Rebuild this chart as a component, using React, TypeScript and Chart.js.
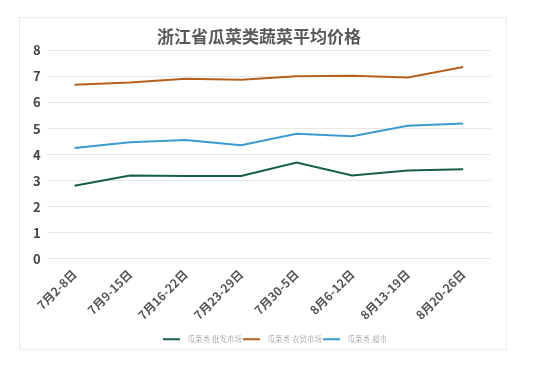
import React, { useEffect, useRef } from "react";
import { Chart, registerables } from "chart.js";

Chart.register(...registerables);

const TITLE = "浙江省瓜菜类蔬菜平均价格";
const CATEGORIES = ["7月2-8日", "7月9-15日", "7月16-22日", "7月23-29日", "7月30-5日", "8月6-12日", "8月13-19日", "8月20-26日"];
const WHOLESALE = [2.81, 3.2, 3.18, 3.18, 3.7, 3.2, 3.39, 3.44];
const FARMERS = [6.68, 6.77, 6.91, 6.87, 7.01, 7.03, 6.96, 7.36];
const SUPERMARKET = [4.26, 4.48, 4.56, 4.36, 4.8, 4.71, 5.11, 5.2];
const SERIES_NAMES = ["瓜菜类 批发市场", "瓜菜类 农贸市场", "瓜菜类 超市"];
const SERIES_COLORS = ["#175f4b", "#b4611f", "#3b9ad0"];
const Y_MIN = 0;
const Y_MAX = 8;

const legendShift = {
  id: "legendShift",
  afterLayout(chart: any) {
    if (chart.legend) {
      chart.legend.left += 16;
      chart.legend.right += 16;
    }
  },
};

export default function App() {
  const ref = useRef<HTMLCanvasElement | null>(null);
  useEffect(() => {
    if (!ref.current) return;
    const font = "'Noto Sans CJK SC', 'Noto Sans', sans-serif";
    const values = [WHOLESALE, FARMERS, SUPERMARKET];
    const chart = new Chart(ref.current, {
      type: "line",
      data: {
        labels: CATEGORIES,
        datasets: values.map((v, i) => ({
          label: SERIES_NAMES[i],
          data: v,
          borderColor: SERIES_COLORS[i],
          backgroundColor: SERIES_COLORS[i],
          borderWidth: 2,
          pointRadius: 0,
          tension: 0,
        })),
      },
      plugins: [legendShift],
      options: {
        animation: false,
        responsive: true,
        maintainAspectRatio: false,
        layout: { padding: { left: 7, right: 15, top: 0, bottom: -4 } },
        plugins: {
          title: {
            display: true,
            text: TITLE,
            color: "#595959",
            font: { family: font, size: 17, weight: "bold" },
            padding: { top: 8, bottom: 4 },
          },
          legend: {
            position: "bottom",
            title: { display: true, text: "", font: { size: 1 }, padding: { top: 11, bottom: 0 } },
            labels: {
              color: "#9a9a9a",
              font: { family: "'Noto Serif CJK SC', 'Noto Sans CJK SC', serif", size: 7.5 },
              boxWidth: 17,
              boxHeight: 2,
              padding: 1,
              generateLabels: (c: any) => {
                const items = Chart.defaults.plugins.legend.labels.generateLabels(c);
                return items.map((it: any) => ({ ...it, text: "  " + it.text, lineWidth: 0 }));
              },
            },
          },
          tooltip: { enabled: false },
        },
        scales: {
          x: {
            offset: true,
            grid: { display: false },
            border: { display: false },
            ticks: {
              color: "#555",
              font: { family: font, size: 12, weight: "bold" },
              maxRotation: 45,
              minRotation: 45,
              padding: 0,
            },
          },
          y: {
            min: Y_MIN,
            max: Y_MAX,
            grid: { color: "#e8e8e8", drawTicks: false },
            border: { display: false },
            ticks: {
              stepSize: 1,
              color: "#444",
              font: { family: font, size: 13, weight: "bold" },
              padding: 6,
            },
          },
        },
      },
    });
    return () => chart.destroy();
  }, []);
  return (
    <div
      style={{
        position: "absolute",
        left: 19,
        top: 17,
        width: 488,
        height: 333,
        border: "1px solid #ebebeb",
        boxSizing: "border-box",
        background: "#fff",
      }}
    >
      <canvas ref={ref} />
    </div>
  );
}
